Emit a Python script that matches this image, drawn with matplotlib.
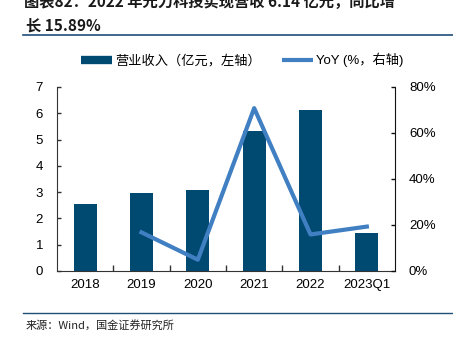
import matplotlib
matplotlib.use("Agg")
import matplotlib.pyplot as plt
from matplotlib.lines import Line2D
import numpy as np

plt.rcParams['font.family'] = ['Liberation Sans', 'Noto Sans CJK SC', 'DejaVu Sans']

categories = ['2018', '2019', '2020', '2021', '2022', '2023Q1']
revenue = [2.55, 2.95, 3.10, 5.31, 6.14, 1.43]
yoy = [None, 16.8, 4.9, 70.8, 15.89, 19.3]
left_ticks = [0, 1, 2, 3, 4, 5, 6, 7]
right_ticks = [0, 20, 40, 60, 80]

bar_color = '#004A72'
line_color = '#3F7FC2'

fig = plt.figure(figsize=(4.53, 3.41), dpi=100)
ax = fig.add_axes([0.1258, 0.2053, 0.8720 - 0.1258, 0.7449 - 0.2053])
x = np.arange(len(categories))
ax.bar(x, revenue, width=0.41, color=bar_color, zorder=2)
ax.set_xlim(-0.5, len(categories) - 0.5)
ax.set_ylim(0, 7)
ax.set_yticks(left_ticks)
ax.set_xticks(x)
ax.set_xticklabels(categories)
ax.set_xticks(np.arange(len(categories) - 1) + 0.5, minor=True)
ax.tick_params(axis='x', which='major', length=0, labelsize=9.5, pad=6)
ax.tick_params(axis='x', which='minor', direction='in', length=4, width=1, color='#333333')
ax.tick_params(axis='y', direction='in', length=3, width=1, labelsize=9.5, pad=10, color='#333333')
for s in ['top', 'right']:
    ax.spines[s].set_visible(False)
ax.spines['left'].set_color('#333333')
ax.spines['bottom'].set_color('#333333')

ax2 = ax.twinx()
xs = [i for i, v in enumerate(yoy) if v is not None]
ys = [v for v in yoy if v is not None]
ax2.plot(xs, ys, color=line_color, lw=3, zorder=3)
ax2.set_ylim(0, 80)
ax2.set_yticks(right_ticks)
ax2.set_yticklabels([f'{t}%' for t in right_ticks])
ax2.tick_params(axis='y', direction='in', length=3, width=1, labelsize=9.5, pad=10, color='#111111')
for s in ['top', 'left', 'bottom']:
    ax2.spines[s].set_visible(False)
ax2.spines['right'].set_color('#111111')

handles = [Line2D([0], [0], color=bar_color, lw=6, solid_capstyle='butt'),
           Line2D([0], [0], color=line_color, lw=3, solid_capstyle='butt')]
labels = ['营业收入（亿元，左轴）', 'YoY (%，右轴)']
fig.legend(handles, labels, loc='center', bbox_to_anchor=(0.535, 1 - 60 / 341), ncol=2,
           frameon=False, fontsize=9.5, handlelength=2.35, handletextpad=0.25, columnspacing=1.6)

# title (partially cut at the top edge)
cjk = ['Noto Sans CJK SC', 'DejaVu Sans']
fig.text(24 / 453, 1 - 7 / 341, '图表82：2022 年光力科技实现营收 6.14 亿元，同比增',
         fontsize=11, fontweight='bold', color='#1a1a1a', va='baseline', ha='left', family=cjk)
fig.text(26 / 453, 1 - 31 / 341, '长 15.89%',
         fontsize=11, fontweight='bold', color='#1a1a1a', va='baseline', ha='left', family=cjk)
fig.add_artist(Line2D([23 / 453, 1], [1 - 35 / 341, 1 - 35 / 341], color='#1F4E79', lw=1.2))
fig.add_artist(Line2D([23 / 453, 1], [1 - 313 / 341, 1 - 313 / 341], color='#1F4E79', lw=1.0))
fig.text(26 / 453, 1 - 325 / 341, '来源：Wind，国金证券研究所', fontsize=8, color='#222222',
         va='center', ha='left', family=cjk)

fig.savefig('out.png', dpi=100)
